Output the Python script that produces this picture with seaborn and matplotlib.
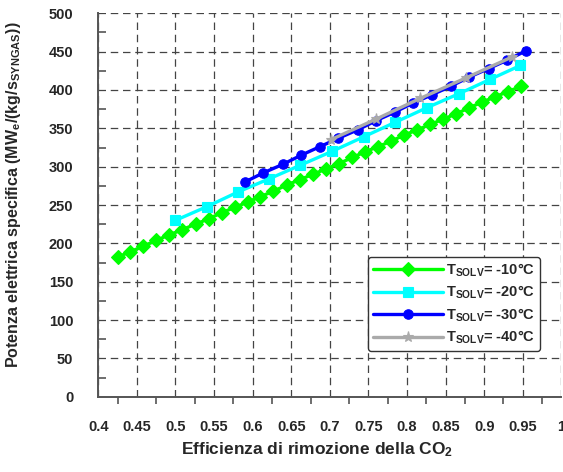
import numpy as np
import pandas as pd
import seaborn as sns
import matplotlib
matplotlib.use("Agg")
import matplotlib.pyplot as plt
from matplotlib.ticker import MultipleLocator, FuncFormatter

# ---- data ----
x_m10 = [0.425, 0.441, 0.458, 0.475, 0.492, 0.509, 0.526, 0.543, 0.560, 0.577,
         0.594, 0.610, 0.627, 0.644, 0.661, 0.678, 0.695, 0.712, 0.729, 0.745,
         0.762, 0.779, 0.796, 0.813, 0.830, 0.847, 0.864, 0.881, 0.897, 0.914,
         0.931, 0.948]
y_m10 = [182, 189, 196, 204, 211, 218, 225, 232, 240, 247,
         254, 261, 268, 276, 283, 290, 297, 304, 312, 319,
         326, 333, 341, 348, 355, 362, 369, 377, 384, 391,
         398, 405]

x_m20 = [0.500, 0.541, 0.581, 0.621, 0.662, 0.703, 0.744, 0.785, 0.826, 0.867,
         0.908, 0.947]
y_m20 = [230, 248, 267, 284, 302, 320, 339, 358, 377, 395, 414, 432]

x_m30 = [0.590, 0.614, 0.639, 0.663, 0.687, 0.711, 0.736, 0.760, 0.784, 0.808,
         0.833, 0.857, 0.881, 0.906, 0.930, 0.954]
y_m30 = [280, 292, 303, 315, 326, 337, 348, 360, 371, 383, 394, 405, 417, 428,
         439, 451]

x_m40 = [0.701, 0.760, 0.817, 0.877, 0.936]
y_m40 = [335, 362, 389, 416, 443]

labels = [r"$\mathbf{T_{SOLV}}$= -10°C", r"$\mathbf{T_{SOLV}}$= -20°C",
          r"$\mathbf{T_{SOLV}}$= -30°C", r"$\mathbf{T_{SOLV}}$= -40°C"]
colors = ["#00ff00", "#00ffff", "#0000ff", "#aaaaaa"]
markers = ["D", "s", "o", "*"]
msizes = [7.2, 6.8, 6.8, 8]

sns.set_style("white")
plt.rcParams["font.family"] = ["Liberation Sans", "DejaVu Sans"]
plt.rcParams["font.weight"] = "bold"
plt.rcParams["axes.labelweight"] = "bold"
plt.rcParams["mathtext.fontset"] = "custom"
plt.rcParams["mathtext.rm"] = "Liberation Sans:bold"
plt.rcParams["mathtext.bf"] = "Liberation Sans:bold"
plt.rcParams["mathtext.it"] = "Liberation Sans:bold"
plt.rcParams["mathtext.sf"] = "Liberation Sans:bold"

fig = plt.figure(figsize=(5.63, 4.72), dpi=100)
ax = fig.add_axes([0.1746, 0.1595, 0.8224, 0.8123])

series = [(x_m10, y_m10), (x_m20, y_m20), (x_m30, y_m30), (x_m40, y_m40)]
for (xs, ys), lab, c, m, ms in zip(series, labels, colors, markers, msizes):
    df = pd.DataFrame({"x": xs, "y": ys})
    sns.lineplot(data=df, x="x", y="y", ax=ax, color=c, marker=m,
                 markersize=ms, markeredgecolor=c, markeredgewidth=0.8,
                 linewidth=2.4, label=lab, sort=False, zorder=3)

ax.set_xlim(0.4, 1.0)
ax.set_ylim(0, 500)
ax.xaxis.set_major_locator(MultipleLocator(0.05))
ax.xaxis.set_minor_locator(MultipleLocator(0.025))
ax.yaxis.set_major_locator(MultipleLocator(50))
ax.yaxis.set_minor_locator(MultipleLocator(25))
ax.xaxis.set_major_formatter(FuncFormatter(lambda v, p: f"{v:g}"))

ax.grid(True, which="major", color="#444444", linestyle=(0, (6, 3.8)),
        linewidth=0.9)
for s in ["top", "right"]:
    ax.spines[s].set_visible(False)
for s in ["left", "bottom"]:
    ax.spines[s].set_color("#555555")
    ax.spines[s].set_linewidth(1.4)

ax.tick_params(axis="y", which="major", direction="out", length=13,
               width=1.2, color="#555555", pad=5, labelsize=10.5)
ax.tick_params(axis="y", which="minor", direction="in", length=6,
               width=1.2, color="#555555", left=True)
ax.tick_params(axis="x", which="major", direction="out", length=11,
               width=1.2, color="#555555", pad=6, labelsize=10.5)
ax.tick_params(axis="x", which="minor", direction="out", length=5,
               width=1.2, color="#555555", bottom=True)

ax.set_xlabel(r"Efficienza di rimozione della CO$_2$", fontsize=12.5,
              fontweight="bold")
ax.set_ylabel(r"Potenza elettrica specifica (MW$_e$/(kg/s$_{SYNGAS}$))",
              fontsize=11.5, fontweight="bold")
ax.xaxis.set_label_coords(0.472, -0.113)
ax.yaxis.set_label_coords(-0.163, 0.526)

leg = ax.legend(loc="lower left", bbox_to_anchor=(0.583, 0.12),
                borderaxespad=0, fontsize=10.5, handlelength=4.8,
                frameon=True, fancybox=True, labelspacing=0.34,
                borderpad=0.32, handletextpad=0.2)
frame = leg.get_frame()
frame.set_edgecolor("#333333")
frame.set_linewidth(1.0)
frame.set_facecolor("white")
frame.set_alpha(1)
for t in leg.get_texts():
    t.set_fontweight("bold")

fig.savefig("out.png", dpi=100)
